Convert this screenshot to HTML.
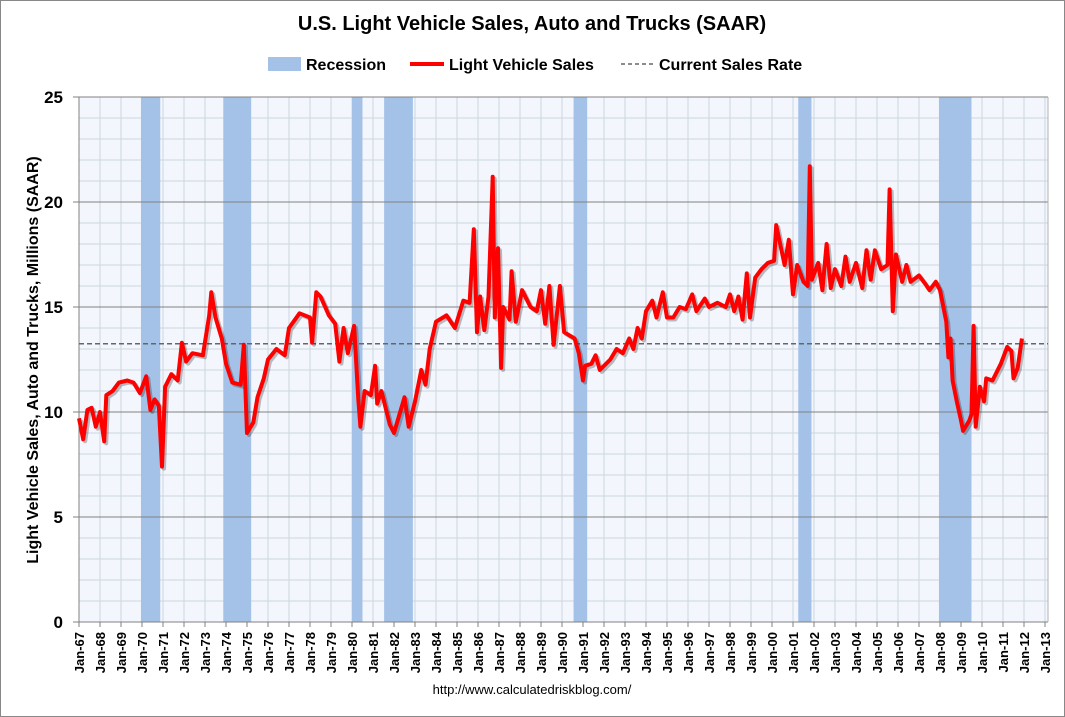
<!DOCTYPE html>
<html><head><meta charset="utf-8"><style>
html,body{margin:0;padding:0;background:#fff}
svg{display:block;font-family:"Liberation Sans",Arial,sans-serif}
</style></head><body>
<svg id="chart" width="1065" height="717" viewBox="0 0 1065 717">
<rect x="0.5" y="0.5" width="1064" height="716" fill="#fff" stroke="#888"/>
<text x="532" y="30" text-anchor="middle" font-size="20" font-weight="bold" fill="#000">U.S. Light Vehicle Sales, Auto and Trucks (SAAR)</text>
<g>
<g><rect x="268" y="57" width="33" height="14" fill="#a4c2e8"/><text x="306" y="70" font-size="16" font-weight="bold">Recession</text></g>
<g><line x1="410" y1="64" x2="444" y2="64" stroke="#f00" stroke-width="4"/><text x="449" y="70" font-size="16" font-weight="bold">Light Vehicle Sales</text></g>
<g><line x1="621" y1="64" x2="655" y2="64" stroke="#666" stroke-width="1.5" stroke-dasharray="4,3"/><text x="659" y="70" font-size="16" font-weight="bold">Current Sales Rate</text></g>
</g>
<text transform="translate(38,360) rotate(-90)" text-anchor="middle" font-size="16" font-weight="bold">Light Vehicle Sales, Auto and Trucks, Millions (SAAR)</text>
<text x="532" y="694" text-anchor="middle" font-size="13">http://www.calculatedriskblog.com/</text>
<g id="plot"></g>
</svg>
<script>
const yTicks=[0,5,10,15,20,25];
const xYears=[];for(let y=1967;y<=2013;y++)xYears.push(y);
const recessionStarts=[1969.95,1973.87,1980.0,1981.53,1990.55,2001.25,2007.95];
const recessionEnds=[1970.87,1975.2,1980.5,1982.9,1991.2,2001.88,2009.5];
const currentRate=13.25;
const dates=[1967.0,1967.2,1967.4,1967.6,1967.8,1968.0,1968.2,1968.3,1968.6,1968.9,1969.3,1969.6,1969.9,1970.2,1970.4,1970.6,1970.8,1970.95,1971.1,1971.4,1971.7,1971.9,1972.1,1972.4,1972.9,1973.2,1973.3,1973.5,1973.8,1974.0,1974.3,1974.7,1974.85,1975.0,1975.3,1975.5,1975.8,1976.0,1976.4,1976.8,1977.0,1977.5,1978.0,1978.1,1978.3,1978.5,1978.9,1979.2,1979.4,1979.6,1979.8,1980.1,1980.3,1980.4,1980.6,1980.9,1981.1,1981.2,1981.4,1981.6,1981.8,1982.0,1982.5,1982.7,1983.0,1983.3,1983.5,1983.7,1984.0,1984.5,1984.9,1985.3,1985.6,1985.8,1985.95,1986.1,1986.3,1986.5,1986.7,1986.8,1986.95,1987.1,1987.2,1987.5,1987.6,1987.8,1988.1,1988.5,1988.8,1989.0,1989.2,1989.4,1989.6,1989.9,1990.1,1990.6,1990.8,1991.0,1991.1,1991.4,1991.6,1991.8,1992.3,1992.6,1992.9,1993.2,1993.4,1993.6,1993.8,1994.0,1994.3,1994.5,1994.8,1995.0,1995.3,1995.6,1995.9,1996.2,1996.4,1996.8,1997.0,1997.4,1997.8,1998.0,1998.2,1998.4,1998.6,1998.8,1998.95,1999.2,1999.5,1999.8,2000.1,2000.2,2000.6,2000.8,2001.0,2001.2,2001.5,2001.7,2001.8,2001.9,2002.2,2002.4,2002.6,2002.8,2003.0,2003.3,2003.5,2003.7,2004.0,2004.3,2004.5,2004.7,2004.9,2005.2,2005.5,2005.6,2005.75,2005.9,2006.2,2006.4,2006.6,2007.0,2007.3,2007.5,2007.8,2008.0,2008.3,2008.4,2008.5,2008.6,2008.8,2009.0,2009.1,2009.4,2009.5,2009.6,2009.7,2009.9,2010.1,2010.2,2010.5,2010.9,2011.2,2011.4,2011.5,2011.7,2011.9];
const sales=[9.7,8.7,10.1,10.2,9.3,10.0,8.6,10.8,11.0,11.4,11.5,11.4,10.9,11.7,10.1,10.6,10.3,7.4,11.2,11.8,11.5,13.3,12.4,12.8,12.7,14.6,15.7,14.5,13.5,12.3,11.4,11.3,13.2,9.0,9.5,10.7,11.6,12.5,13.0,12.7,14.0,14.7,14.5,13.3,15.7,15.5,14.6,14.2,12.4,14.0,12.8,14.1,10.6,9.3,11.0,10.8,12.2,10.4,11.0,10.2,9.4,9.0,10.7,9.3,10.5,12.0,11.3,13.0,14.3,14.6,14.0,15.3,15.2,18.7,13.8,15.5,13.9,15.5,21.2,14.5,17.8,12.1,15.0,14.4,16.7,14.3,15.8,15.0,14.8,15.8,14.2,16.0,13.2,16.0,13.8,13.5,12.8,11.5,12.2,12.3,12.7,12.0,12.5,13.0,12.8,13.5,13.0,14.0,13.5,14.8,15.3,14.5,15.7,14.5,14.5,15.0,14.9,15.6,14.8,15.4,15.0,15.2,15.0,15.6,14.8,15.5,14.4,16.6,14.5,16.4,16.8,17.1,17.2,18.9,17.0,18.2,15.6,17.0,16.2,16.0,21.7,16.3,17.1,15.8,18.0,15.9,16.8,16.0,17.4,16.2,17.1,15.9,17.7,16.3,17.7,16.8,17.0,20.6,14.8,17.5,16.2,17.0,16.2,16.5,16.1,15.8,16.2,15.8,14.3,12.6,13.5,11.5,10.5,9.6,9.1,9.6,9.9,14.1,9.3,11.2,10.5,11.6,11.5,12.3,13.1,12.9,11.6,12.1,13.5];

const L=79,R=1048,T=97,B=622;
const X=y=>L+(y-1967)*21.0;
const Y=v=>B-v*(B-T)/25;
const NS='http://www.w3.org/2000/svg';
const plot=document.getElementById('plot');
function mk(tag,attrs,parent){const e=document.createElementNS(NS,tag);for(const k in attrs)e.setAttribute(k,attrs[k]);(parent||plot).appendChild(e);return e;}
const bg=mk('rect',{x:L,y:T,width:R-L,height:B-T,fill:'#f3f7fd'});


for(let v=1;v<25;v++){if(v%5===0)continue;const g=mk('line',{x1:L,x2:R,y1:Y(v),y2:Y(v),stroke:'#cdd5e0','stroke-width':1});

}
xYears.forEach(y=>{const g=mk('line',{x1:X(y),x2:X(y),y1:T,y2:B,stroke:'#cdd5e0','stroke-width':1});

});
recessionStarts.forEach((s,i)=>{const r=mk('rect',{x:X(s),y:T,width:X(recessionEnds[i])-X(s),height:B-T,fill:'#a4c2e8'});

});
yTicks.forEach(v=>{const g=mk('line',{x1:L-6,x2:R,y1:Y(v),y2:Y(v),stroke:'#808080','stroke-width':1});


const t=mk('text',{x:L-16,y:Y(v)+6,'text-anchor':'end','font-size':17,'font-weight':'bold'});t.textContent=v;

});
xYears.forEach(y=>{const tk=mk('line',{x1:X(y),x2:X(y),y1:B,y2:B+5,stroke:'#808080'});


const t=mk('text',{transform:`translate(${X(y)+5},${B+10}) rotate(-90)`,'text-anchor':'end','font-size':13,'font-weight':'bold'});
t.textContent='Jan-'+String(y%100).padStart(2,'0');

});
const ax=mk('line',{x1:L,x2:L,y1:T,y2:B,stroke:'#808080'});


const rx=mk('line',{x1:R,x2:R,y1:T,y2:B,stroke:'#b0b0b0'});


const cr=mk('line',{x1:L,x2:R,y1:Y(currentRate),y2:Y(currentRate),stroke:'#666','stroke-width':1.5,'stroke-dasharray':'5,3'});


const d=dates.map((t,i)=>(i?'L':'M')+X(t).toFixed(1)+','+Y(sales[i]).toFixed(1)).join('');
const sh=mk('path',{d:d,fill:'none',stroke:'rgba(0,0,0,0.25)','stroke-width':4,transform:'translate(2,2)','stroke-linejoin':'round'});


const ln=mk('path',{d:d,fill:'none',stroke:'#f00','stroke-width':4,'stroke-linejoin':'round'});


</script>
</body></html>
